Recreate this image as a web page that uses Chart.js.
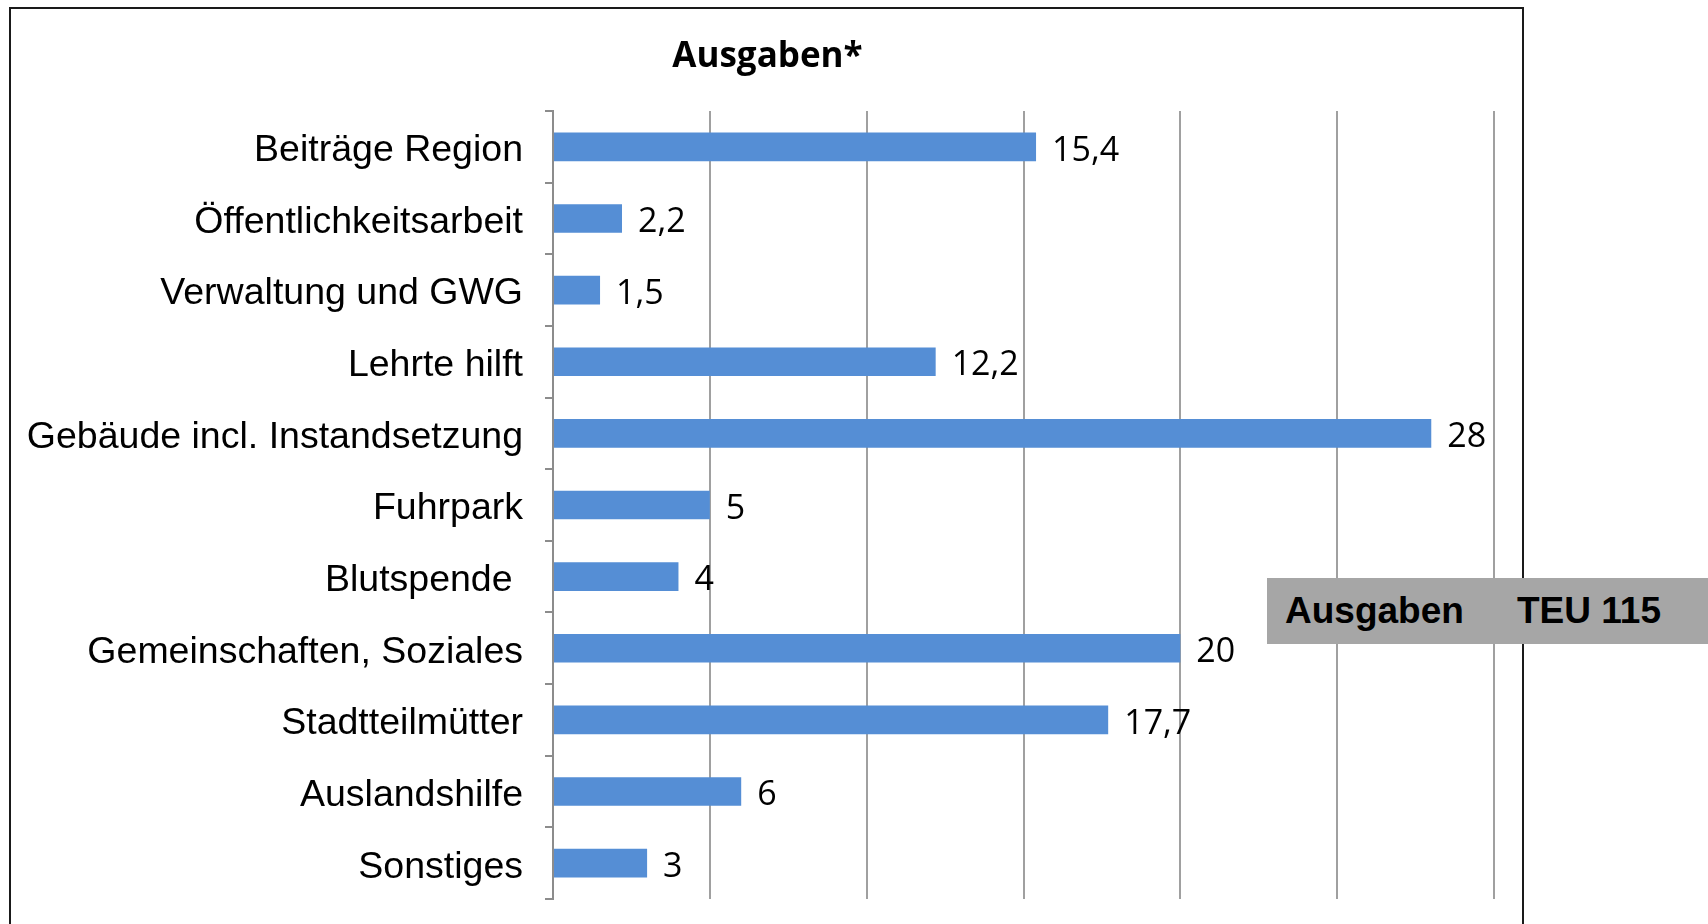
<!DOCTYPE html>
<html>
<head>
<meta charset="utf-8">
<script src="https://cdn.jsdelivr.net/npm/chart.js@4"></script>
<style>
  html, body { margin: 0; padding: 0; background: #fff; overflow: hidden; }
  #rahmen {
    position: absolute; left: 9px; top: 7px;
    width: 1511px; height: 940px;
    border: 2px solid #1a1a1a;
  }
  #summe {
    position: absolute; left: 1267px; top: 578px;
    width: 441px; height: 66px;
    background: #a6a6a6;
    font-family: "Liberation Sans", Arial, sans-serif;
    font-weight: bold; font-size: 37px; line-height: 66px; color: #000;
  }
  #summe span { position: absolute; top: 0; }
</style>
</head>
<body>
<div id="rahmen"><canvas id="grafico1"></canvas></div>
<div id="summe"><span style="left:18px">Ausgaben</span><span style="left:250px">TEU 115</span></div>
<script>
const categorias = [
  "Beiträge Region",
  "Öffentlichkeitsarbeit",
  "Verwaltung und GWG",
  "Lehrte hilft",
  "Gebäude incl. Instandsetzung",
  "Fuhrpark",
  "Blutspende ",
  "Gemeinschaften, Soziales",
  "Stadtteilmütter",
  "Auslandshilfe",
  "Sonstiges",
];
const valores = [15.4, 2.2, 1.5, 12.2, 28, 5, 4, 20, 17.7, 6, 3];
const titulo = "Ausgaben*";

// etiquetas de valor al final de cada barra (coma decimal)
const etiquetasValor = {
  id: "etiquetasValor",
  afterDatasetsDraw(chart) {
    const ctx = chart.ctx;
    const meta = chart.getDatasetMeta(0);
    ctx.save();
    ctx.font = '34px "Open Sans", sans-serif';
    ctx.fillStyle = "#000";
    ctx.textAlign = "left";
    ctx.textBaseline = "middle";
    meta.data.forEach((bar, i) => {
      const texto = String(valores[i]).replace(".", ",");
      ctx.fillText(texto, bar.x + 16, bar.y + 4);
    });
    ctx.restore();
  },
};

// título centrado sobre todo el marco (el título de Chart.js se centra sin el relleno derecho)
const tituloCentrado = {
  id: "tituloCentrado",
  afterDraw(chart) {
    const ctx = chart.ctx;
    ctx.save();
    ctx.font = 'bold 35px "Open Sans", sans-serif';
    ctx.fillStyle = "#000";
    ctx.textAlign = "center";
    ctx.textBaseline = "middle";
    ctx.fillText(titulo, chart.width / 2 + 1, 48);
    ctx.restore();
  },
};

const canvas = document.getElementById("grafico1");
canvas.width = 1511;
canvas.height = 940;

new Chart(canvas.getContext("2d"), {
  type: "bar",
  data: {
    labels: categorias,
    datasets: [
      {
        data: valores,
        backgroundColor: "#558ed5",
        borderWidth: 0,
        barPercentage: 0.4,
        categoryPercentage: 1,
      },
    ],
  },
  options: {
    indexAxis: "y",
    responsive: false,
    animation: false,
    layout: { padding: { left: 0, right: 28, top: 102, bottom: 50 } },
    scales: {
      x: {
        min: 0,
        max: 30,
        ticks: { display: false, stepSize: 5 },
        grid: { color: "#a0a0a0", lineWidth: 2, drawTicks: false },
        border: { display: false },
      },
      y: {
        afterFit: (s) => { s.width = 542; },
        ticks: {
          color: "#000",
          padding: 22,
          labelOffset: 4,
          font: { family: '"Liberation Sans", Arial, sans-serif', size: 37.5 },
        },
        grid: {
          offset: true,
          drawOnChartArea: false,
          tickLength: 8,
          color: "#8c8c8c",
          lineWidth: 2,
        },
        border: { color: "#8c8c8c", width: 2 },
      },
    },
    plugins: {
      legend: { display: false },
      tooltip: { enabled: false },
      title: { display: false },
    },
  },
  plugins: [etiquetasValor, tituloCentrado],
});
</script>
</body>
</html>
